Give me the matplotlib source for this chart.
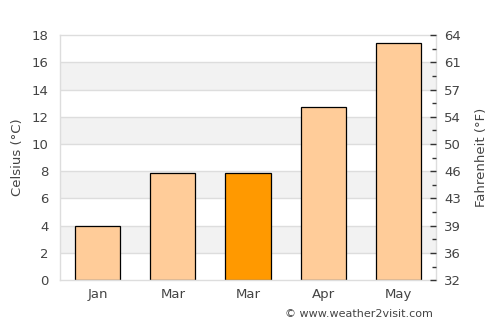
import matplotlib
matplotlib.use("Agg")
import matplotlib.pyplot as plt
from matplotlib.ticker import MultipleLocator

months = ["Jan", "Mar", "Mar", "Apr", "May"]
celsius = [4.0, 7.9, 7.9, 12.7, 17.4]
highlight = [False, False, True, False, False]
left_ticks = [0, 2, 4, 6, 8, 10, 12, 14, 16, 18]

light = "#FFCC99"
dark = "#FF9900"
txt = "#444444"

fig = plt.figure(figsize=(5.0, 3.25), dpi=100)
ax = fig.add_axes([0.12, 0.138, 0.752, 0.754])

ymax = 18
for i, t in enumerate(left_ticks[:-1]):
    if i % 2 == 1:
        ax.axhspan(t, t + 2, color="#F2F2F2", zorder=0, lw=0)
for t in left_ticks[1:-1]:
    ax.axhline(t, color="#DDDDDD", lw=1, zorder=0.5)

x = list(range(len(months)))
colors = [dark if h else light for h in highlight]
ax.bar(x, celsius, width=0.6, color=colors, edgecolor="black", linewidth=0.9, zorder=2)

ax.set_xlim(-0.5, len(months) - 0.5)
ax.set_ylim(0, ymax)
ax.set_xticks(x)
ax.set_xticklabels(months)
ax.set_yticks(left_ticks)
ax.tick_params(axis="both", length=0, colors=txt, labelsize=9.5, pad=6)
ax.tick_params(axis="y", pad=8)
for s in ax.spines.values():
    s.set_color("#DDDDDD")
    s.set_linewidth(1)
ax.set_ylabel("Celsius (°C)", color=txt, fontsize=9.5, labelpad=6)

ax2 = ax.twinx()
ax2.set_ylim(0, ymax)
ax2.set_yticks(left_ticks)
ax2.set_yticklabels([str(int(round(c * 9 / 5 + 32))) for c in left_ticks])
ax2.yaxis.set_minor_locator(MultipleLocator(1))
ax2.tick_params(axis="y", which="major", direction="in", length=4, width=1,
                color="#333333", labelcolor=txt, labelsize=9.5, pad=6)
ax2.tick_params(axis="y", which="minor", direction="in", length=3, width=1, color="#333333")
for s in ax2.spines.values():
    s.set_visible(False)
ax2.set_ylabel("Fahrenheit (°F)", color=txt, fontsize=9.5, labelpad=10)

fig.text(0.57, 0.035, "© www.weather2visit.com", color=txt, fontsize=8, ha="left", va="center")

fig.savefig("out.png", dpi=100)
